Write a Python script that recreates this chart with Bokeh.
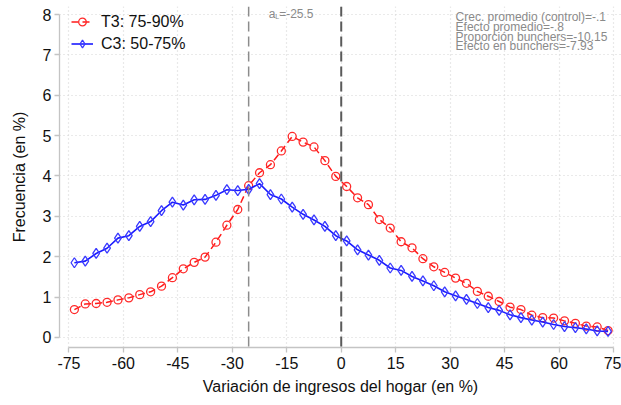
from bokeh.plotting import figure
from bokeh.models import FixedTicker, Range1d, Span, CustomJSTickFormatter
from bokeh.core.properties import value
from bokeh.embed import file_html
from bokeh.resources import INLINE

# Bin centres of household income change (%)
income_change = [-73.5, -70.5, -67.5, -64.5, -61.5, -58.5, -55.5, -52.5, -49.5, -46.5,
                 -43.5, -40.5, -37.5, -34.5, -31.5, -28.5, -25.5, -22.5, -19.5, -16.5,
                 -13.5, -10.5, -7.5, -4.5, -1.5, 1.5, 4.5, 7.5, 10.5, 13.5,
                 16.5, 19.5, 22.5, 25.5, 28.5, 31.5, 34.5, 37.5, 40.5, 43.5,
                 46.5, 49.5, 52.5, 55.5, 58.5, 61.5, 64.5, 67.5, 70.5, 73.5]

# Frequency (%) for treatment group T3 (75-90%)
freq_t3 = [0.69, 0.83, 0.84, 0.87, 0.93, 0.98, 1.06, 1.13, 1.27, 1.48,
           1.70, 1.86, 1.99, 2.36, 2.78, 3.17, 3.76, 4.08, 4.28, 4.62,
           4.98, 4.84, 4.72, 4.38, 3.99, 3.74, 3.46, 3.29, 2.92, 2.71,
           2.37, 2.22, 1.95, 1.75, 1.61, 1.47, 1.34, 1.14, 1.02, 0.89,
           0.75, 0.69, 0.55, 0.49, 0.48, 0.41, 0.35, 0.28, 0.26, 0.17]

# Frequency (%) for control group C3 (50-75%)
freq_c3 = [1.85, 1.89, 2.08, 2.21, 2.46, 2.52, 2.75, 2.87, 3.14, 3.35,
           3.28, 3.41, 3.42, 3.52, 3.66, 3.64, 3.67, 3.81, 3.54, 3.43,
           3.23, 3.05, 2.91, 2.75, 2.52, 2.39, 2.17, 2.04, 1.91, 1.72,
           1.66, 1.51, 1.40, 1.28, 1.13, 1.03, 0.94, 0.84, 0.74, 0.67,
           0.56, 0.49, 0.43, 0.38, 0.32, 0.27, 0.24, 0.21, 0.16, 0.15]

x_ticks = [-75, -60, -45, -30, -15, 0, 15, 30, 45, 60, 75]
y_ticks = [0, 1, 2, 3, 4, 5, 6, 7, 8]

lower_threshold = -25.5
stats_lines = ["Crec. promedio (control)=-.1",
               "Efecto promedio=-.8",
               "Proporción bunchers=-10.15",
               "Efecto en bunchers=-7.93"]

FONT = "Liberation Sans"
AXIS_GREY = "#c4c4c4"
TEXT_GREY = "#8a8a8a"

p = figure(width=621, height=405, output_backend="svg", toolbar_location=None,
           x_range=Range1d(-77.6, 77.2), y_range=Range1d(-0.25, 8.2),
           min_border_left=59, min_border_right=0, min_border_top=6,
           min_border_bottom=58)
p.outline_line_color = None
p.background_fill_color = "white"
p.border_fill_color = "white"

# Axes: limited to the tick range, grey lines, outward ticks
for ax in (p.xaxis[0], p.yaxis[0]):
    ax.axis_line_color = AXIS_GREY
    ax.axis_line_width = 1.3
    ax.major_tick_line_color = AXIS_GREY
    ax.major_tick_line_width = 1.3
    ax.major_tick_out = 5
    ax.major_tick_in = 0
    ax.minor_tick_line_color = None
    ax.major_label_text_font = FONT
    ax.major_label_text_font_size = "16px"
    ax.major_label_text_color = "#111111"
    ax.axis_label_text_font = FONT
    ax.axis_label_text_font_size = "16px"
    ax.axis_label_text_font_style = "normal"
    ax.axis_label_text_color = "#111111"
    # plain hyphen for negative numbers
    ax.formatter = CustomJSTickFormatter(code="return String(tick);")

p.xaxis.ticker = FixedTicker(ticks=x_ticks)
p.yaxis.ticker = FixedTicker(ticks=y_ticks)
p.xaxis.bounds = (-75, 75)
p.yaxis.bounds = (0, 8)
p.xaxis.major_label_standoff = 4
p.yaxis.major_label_standoff = 3
p.xaxis.axis_label = "Variación de ingresos del hogar (en %)"
p.yaxis.axis_label = "Frecuencia (en %)"
p.xaxis.axis_label_standoff = 6
p.yaxis.axis_label_standoff = 12
p.yaxis.major_label_orientation = "horizontal"

# Dotted grid
for g in (p.xgrid[0], p.ygrid[0]):
    g.grid_line_color = "#d4d4d4"
    g.grid_line_dash = "1 3"
    g.grid_line_width = 1.2
p.xgrid.ticker = FixedTicker(ticks=x_ticks)
p.ygrid.ticker = FixedTicker(ticks=y_ticks)

# Reference lines: lower threshold and zero change
p.add_layout(Span(location=lower_threshold, dimension="height", line_color="#8c8c8c",
                  line_width=1.5, line_dash="10 5"))
p.add_layout(Span(location=0, dimension="height", line_color="#5a5a5a",
                  line_width=2, line_dash="10 5"))

# Series
p.line(income_change, freq_t3, line_color="#ff1a1a", line_width=1.5, line_dash="7 4",
       legend_label="T3: 75-90%")
p.scatter(income_change, freq_t3, marker="circle", size=8, line_color="#ff2a2a",
          line_width=1.3, fill_alpha=0, legend_label="T3: 75-90%")
p.line(income_change, freq_c3, line_color="#1a1aff", line_width=1.6,
       legend_label="C3: 50-75%")
p.scatter(income_change, freq_c3, marker="diamond", size=10, line_color="#3a3aff",
          line_width=1.3, fill_alpha=0, legend_label="C3: 50-75%")

lg = p.legend[0]
lg.border_line_color = None
lg.background_fill_alpha = 0
lg.padding = 0
lg.margin = 0
lg.spacing = 3
lg.label_height = 19
lg.glyph_height = 19
lg.glyph_width = 22
lg.label_standoff = 8
lg.label_text_font = FONT
lg.label_text_font_size = "16px"
lg.label_text_color = "#111111"
lg.label_text_baseline = "middle"
# offset from the frame's bottom-left corner, placing the legend at the top left
lg.location = (12, 294)

# Threshold label a_L=-25.5
p.text(x=[lower_threshold], y=[8.0], text=["a"], x_offset=20, y_offset=-1,
       text_font=value(FONT), text_font_size="12px", text_color=TEXT_GREY,
       text_baseline="middle", text_align="left")
p.text(x=[lower_threshold], y=[8.0], text=["L"], x_offset=26.5, y_offset=2,
       text_font=value(FONT), text_font_size="7px", text_color=TEXT_GREY,
       text_baseline="middle", text_align="left")
p.text(x=[lower_threshold], y=[8.0], text=["=-25.5"], x_offset=30.5, y_offset=-1,
       text_font=value(FONT), text_font_size="12px", text_color=TEXT_GREY,
       text_baseline="middle", text_align="left")

# Summary statistics block
p.text(x=[31.5] * len(stats_lines), y=[7.93, 7.70, 7.45, 7.23], text=stats_lines,
       text_font=value(FONT), text_font_size="12px", text_color=TEXT_GREY,
       text_baseline="middle", text_align="left")

open("out.html", "w").write(file_html(p, INLINE))
